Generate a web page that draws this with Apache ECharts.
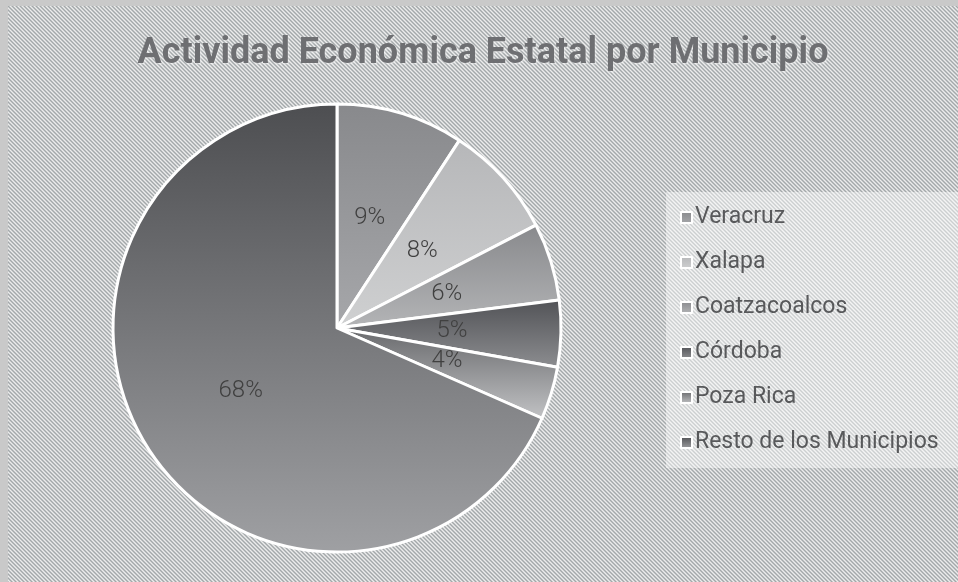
<!DOCTYPE html>
<html>
<head>
<meta charset="utf-8">
<script src="https://cdn.jsdelivr.net/npm/echarts@6/dist/echarts.min.js"></script>
<style>
  html, body { margin: 0; padding: 0; background: #c9c9c9; }
  #pie { position: absolute; left: 8px; top: 6px; width: 950px; height: 576px; }
</style>
</head>
<body>
<div id="pie"></div>
<script>
// datos del gráfico
var municipios = ['Veracruz', 'Xalapa', 'Coatzacoalcos', 'Córdoba', 'Poza Rica', 'Resto de los Municipios'];
var valores = [9.2, 8.2, 5.6, 4.8, 3.8, 68.4];
var titulo = 'Actividad Económica Estatal por Municipio';

// degradados (arriba -> abajo) para cada rebanada
var tonos = [
  ['#88898c', '#a6a7aa'],
  ['#b6b7b9', '#cfd0d1'],
  ['#88898c', '#b4b5b7'],
  ['#515256', '#8d8e91'],
  ['#67686b', '#c2c3c5'],
  ['#4d4e51', '#9fa0a3']
];

function grad(c) {
  return new echarts.graphic.LinearGradient(0, 0, 0, 1, [
    { offset: 0, color: c[0] },
    { offset: 1, color: c[1] }
  ]);
}

// fondo rayado diagonal
function rayado() {
  var cv = document.createElement('canvas');
  cv.width = 4; cv.height = 4;
  var ctx = cv.getContext('2d');
  var cols = ['#a3a8aa', '#c3c6c7', '#ececec', '#cbcdce'];
  for (var y = 0; y < 4; y++) {
    for (var x = 0; x < 4; x++) {
      ctx.fillStyle = cols[((x - y) % 4 + 4) % 4];
      ctx.fillRect(x, y, 1, 1);
    }
  }
  return { image: cv, repeat: 'repeat' };
}

var myChart = echarts.init(document.getElementById('pie'));

var option = {
  backgroundColor: rayado(),
  animation: false,
  title: {
    text: titulo,
    left: 'center',
    top: 25,
    textStyle: {
      fontFamily: 'Roboto',
      fontWeight: 'bold',
      fontSize: 36,
      color: '#6e6f72',
      textShadowColor: 'rgba(255,255,255,0.6)',
      textShadowBlur: 2,
      textShadowOffsetX: 1,
      textShadowOffsetY: 1
    }
  },
  legend: {
    orient: 'vertical',
    left: 658,
    top: 186,
    width: 300,
    backgroundColor: 'rgba(255,255,255,0.45)',
    padding: [14, 60, 14, 14],
    itemWidth: 11,
    itemHeight: 11,
    itemGap: 22,
    icon: 'rect',
    itemStyle: { borderColor: '#ffffff', borderWidth: 2 },
    textStyle: {
      fontFamily: 'Roboto',
      fontSize: 23,
      lineHeight: 20,
      color: '#58595b',
      padding: [0, 0, 0, -2]
    },
    data: municipios
  },
  series: [
    {
      type: 'pie',
      center: [329, 322],
      radius: 224,
      startAngle: 90,
      clockwise: true,
      avoidLabelOverlap: false,
      itemStyle: { borderColor: '#ffffff', borderWidth: 3 },
      label: {
        show: true,
        position: 'inner',
        fontFamily: 'Roboto',
        fontWeight: 300,
        fontSize: 24,
        color: '#404040',
        formatter: function (p) { return Math.round(p.percent) + '%'; }
      },
      labelLine: { show: false },
      emphasis: { disabled: true },
      data: municipios.map(function (m, i) {
        return { name: m, value: valores[i], itemStyle: { color: grad(tonos[i]) } };
      })
    }
  ]
};

myChart.setOption(option);
</script>
</body>
</html>
